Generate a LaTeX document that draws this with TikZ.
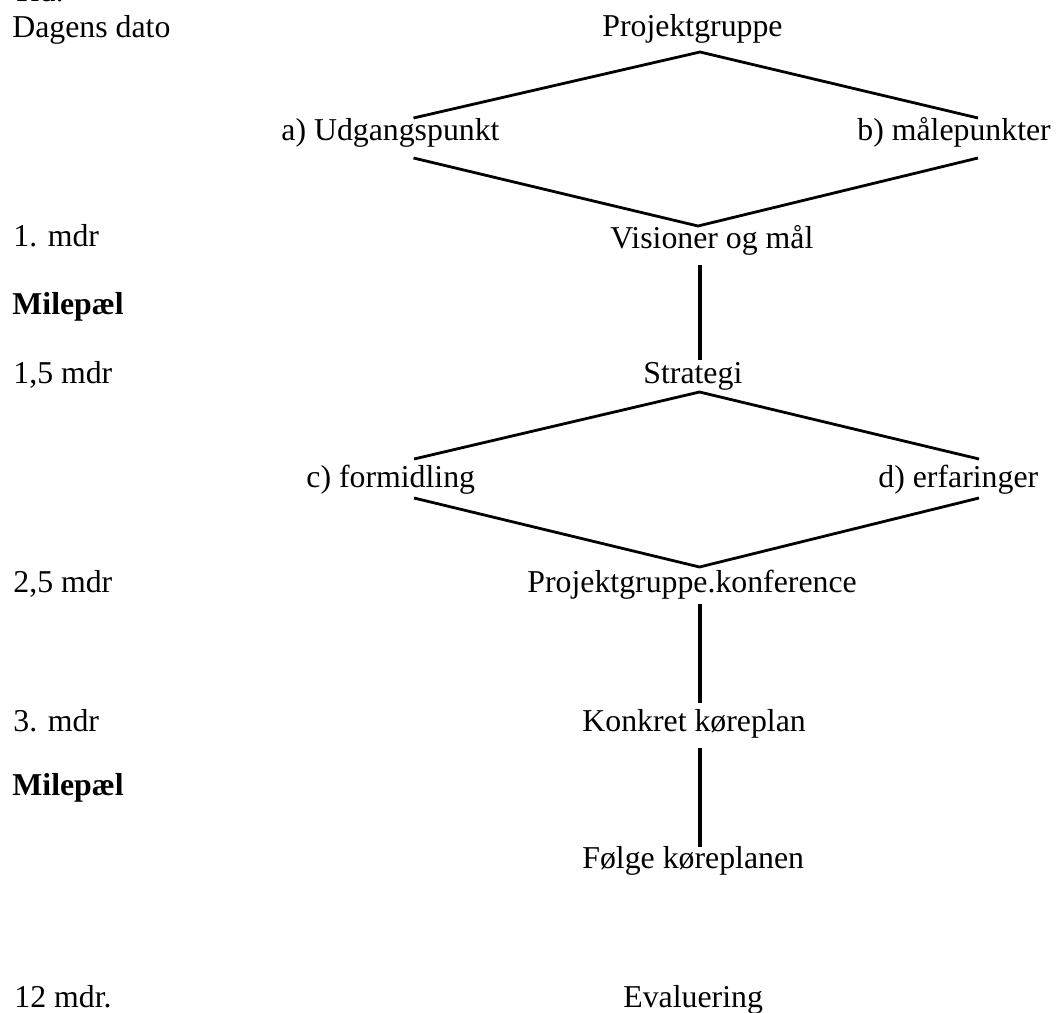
\documentclass[tikz,border=0pt]{standalone}
\usepackage{fontspec}
\setmainfont{LiberationSerif}[Extension=.ttf,UprightFont=*-Regular,BoldFont=*-Bold,ItalicFont=*-Italic,BoldItalicFont=*-BoldItalic]
\begin{document}
\begin{tikzpicture}[x=0.5pt,y=-0.5pt,
  lbl/.style={anchor=base west,inner sep=0pt,font=\fontsize{15.9}{19}\selectfont},
  milestone/.style={lbl,font=\fontsize{15.9}{19}\selectfont\bfseries},
  diag/.style={line width=1.4pt},
  vert/.style={line width=1.8pt}]
\useasboundingbox (0,0) rectangle (1058,1012);

% time column
\node[lbl] (tid)   at (12,2)    {Tid:};
\node[lbl] (dato)  at (12,37)   {Dagens dato};
\node[lbl] (m1)    at (13,246)  {1. mdr};
\node[milestone] (mp1) at (12,314) {Milepæl};
\node[lbl] (m15)   at (13,383)  {1,5 mdr};
\node[lbl] (m25)   at (13,592)  {2,5 mdr};
\node[lbl] (m3)    at (13,731)  {3. mdr};
\node[milestone] (mp2) at (12,795) {Milepæl};
\node[lbl] (m12)   at (14,1007) {12 mdr.};

% project flow
\node[lbl] (pg)    at (602,36)  {Projektgruppe};
\node[lbl] (a)     at (281,140) {a) Udgangspunkt};
\node[lbl] (b)     at (857,140) {b) målepunkter};
\node[lbl] (vis)   at (610,248) {Visioner og mål};
\node[lbl] (strat) at (643,383) {Strategi};
\node[lbl] (c)     at (306,487) {c) formidling};
\node[lbl] (d)     at (878,487) {d) erfaringer};
\node[lbl] (konf)  at (527,592) {Projektgruppe.konference};
\node[lbl] (kore)  at (582,731) {Konkret køreplan};
\node[lbl] (folg)  at (582,868) {Følge køreplanen};
\node[lbl] (eval)  at (623,1007){Evaluering};

% first diamond
\coordinate (p1top) at (700,52);
\coordinate (p1lu)  at (413.5,118);
\coordinate (p1ru)  at (978,118);
\coordinate (p1ll)  at (413.5,158);
\coordinate (p1rl)  at (978,158);
\coordinate (p1bot) at (698,226);
\draw[diag] (p1lu) -- (p1top) -- (p1ru);
\draw[diag] (p1ll) -- (p1bot) -- (p1rl);

% second diamond
\coordinate (p2top) at (699.5,392);
\coordinate (p2lu)  at (414,459);
\coordinate (p2ru)  at (979,459);
\coordinate (p2ll)  at (414,498);
\coordinate (p2rl)  at (979,498);
\coordinate (p2bot) at (699.5,567);
\draw[diag] (p2lu) -- (p2top) -- (p2ru);
\draw[diag] (p2ll) -- (p2bot) -- (p2rl);

% vertical links
\coordinate (v1a) at (700,265);
\coordinate (v1b) at (700,360);
\coordinate (v2a) at (700,604);
\coordinate (v2b) at (700,703);
\coordinate (v3a) at (700,748);
\coordinate (v3b) at (700,847);
\draw[vert] (v1a) -- (v1b);
\draw[vert] (v2a) -- (v2b);
\draw[vert] (v3a) -- (v3b);
\end{tikzpicture}
\end{document}
